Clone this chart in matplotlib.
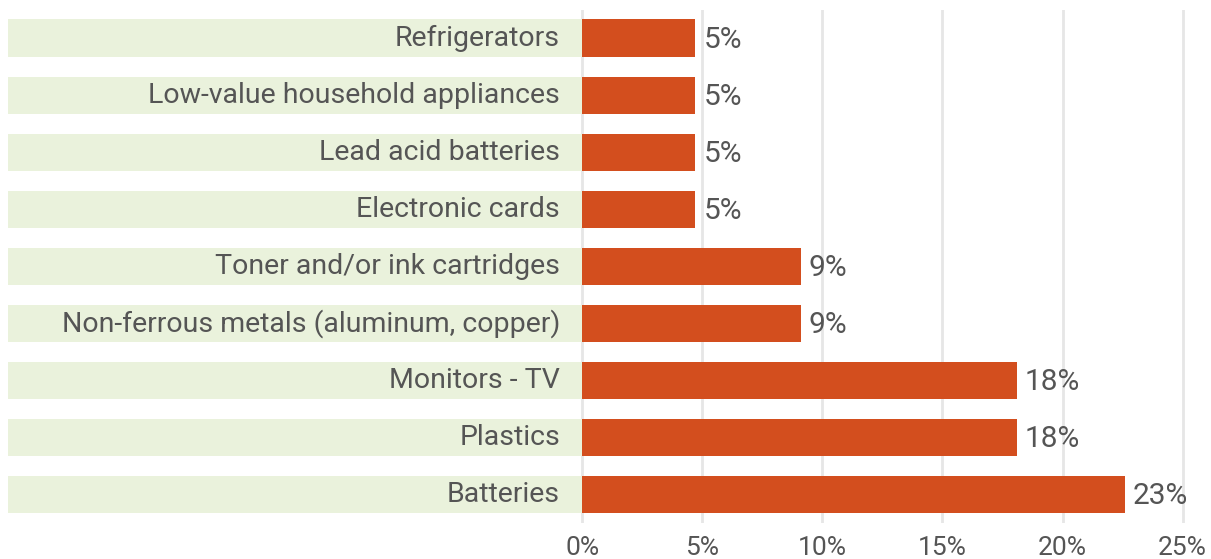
import matplotlib
matplotlib.use("Agg")
import matplotlib.pyplot as plt

categories = ["Refrigerators", "Low-value household appliances", "Lead acid batteries",
              "Electronic cards", "Toner and/or ink cartridges",
              "Non-ferrous metals (aluminum, copper)", "Monitors - TV", "Plastics", "Batteries"]
values = [4.7, 4.7, 4.7, 4.7, 9.1, 9.1, 18.1, 18.1, 22.6]
value_labels = ["5%", "5%", "5%", "5%", "9%", "9%", "18%", "18%", "23%"]
tick_values = [0, 5, 10, 15, 20, 25]
tick_labels = ["0%", "5%", "10%", "15%", "20%", "25%"]

W, H = 1211, 559
fig = plt.figure(figsize=(W / 100, H / 100), dpi=100)
ax_left, ax_right = 8, 1200
ax_top, ax_bottom = 9.5, 523.2
ax = fig.add_axes([ax_left / W, 1 - ax_bottom / H, (ax_right - ax_left) / W, (ax_bottom - ax_top) / H])

px_per_unit = 24.0
zero_px = 582.5
xmin = -(zero_px - ax_left) / px_per_unit
xmax = (ax_right - zero_px) / px_per_unit
ax.set_xlim(xmin, xmax)
ax.set_ylim(len(categories) - 0.5, -0.5)

font = "Roboto"
text_color = "#555555"
bar_h = 0.65

for x in tick_values:
    ax.axvline(x, color="#E6E6E6", lw=2, zorder=0)

y = list(range(len(categories)))
ax.barh(y, [-xmin] * len(y), left=xmin, height=bar_h, color="#EAF2DC", zorder=1)
ax.barh(y, values, height=bar_h, color="#D34E1E", zorder=2)

label_x = -(zero_px - 560) / px_per_unit
for yi, cat, v, vl in zip(y, categories, values, value_labels):
    ax.text(label_x, yi, cat, ha="right", va="center", fontsize=20.5, color=text_color, family=font, zorder=3)
    ax.text(v + 8 / px_per_unit, yi + 0.03, vl, ha="left", va="center", fontsize=21.5, color=text_color, family=font, zorder=3)

ax.set_xticks(tick_values)
ax.set_xticklabels(tick_labels, fontsize=19, color=text_color, family=font)
ax.tick_params(axis="x", length=0, pad=9)
ax.set_yticks([])
for s in ax.spines.values():
    s.set_visible(False)

fig.savefig("out.png", dpi=100, facecolor="white")
